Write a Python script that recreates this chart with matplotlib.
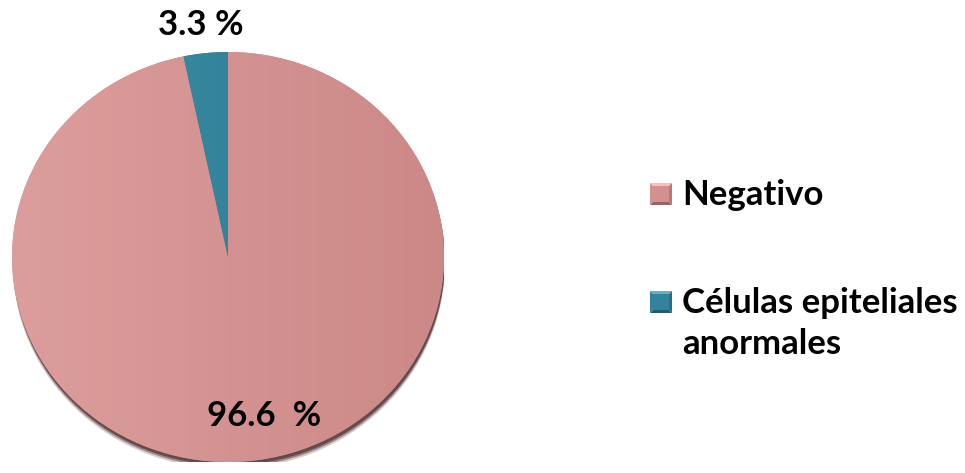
import numpy as np
import matplotlib
matplotlib.use("Agg")
from matplotlib import pyplot as plt
from matplotlib.patches import Ellipse, Polygon
from matplotlib.colors import LinearSegmentedColormap

categories = ["Negativo", "Células epiteliales\nanormales"]
values = [96.6, 3.3]
pct_labels = ["96.6  %", "3.3 %"]
colors = ["#D3908E", "#31849B"]

plt.rcParams['font.family'] = ['Lato', 'DejaVu Sans']

W, H = 965, 473
fig = plt.figure(figsize=(W / 100, H / 100), dpi=100)

# pie area in pixels: x 12..444, y 52..462 (from top)
ax = fig.add_axes([12 / W, (H - 462) / H, 432 / W, 410 / H])
ax.set_zorder(1)

# soft shadow under the pie
for dy, alpha in [(0.035, 0.25), (0.025, 0.5), (0.016, 0.8)]:
    ax.add_patch(Ellipse((0.004, -dy), 2.0, 2.0, facecolor="#5a3c3c", edgecolor="none",
                         alpha=alpha, zorder=0))

wedges, _ = ax.pie(values, colors=colors, startangle=90, counterclock=False, radius=1,
                   wedgeprops=dict(linewidth=0))
ax.set_aspect("auto")

# gradient fill clipped to each wedge
grad = np.linspace(0, 1, 256).reshape(1, -1)
cmaps = [LinearSegmentedColormap.from_list("p", ["#DC9E9C", "#CB8887"]),
         LinearSegmentedColormap.from_list("b", ["#3A8FA6", "#2C7A8F"])]
for w, cm in zip(wedges, cmaps):
    im = ax.imshow(grad, cmap=cm, extent=[-1, 1, -1, 1], aspect="auto", zorder=2)
    im.set_clip_path(w)
ax.set_xlim(-1, 1)
ax.set_ylim(-1, 1)
ax.axis("off")

# percentage labels
ax.text(0.167, -0.776, pct_labels[0], ha="center", va="center", fontsize=25,
        fontweight="bold", zorder=5)
ax.text(-0.125, 1.13, pct_labels[1], ha="center", va="center", fontsize=25,
        fontweight="bold", zorder=5, clip_on=False)

# legend with bevelled square markers
lax = fig.add_axes([0, 0, 1, 1])
lax.set_xlim(0, W)
lax.set_ylim(H, 0)
lax.axis("off")


def bevel_square(x0, yc, size, base):
    c = np.array(matplotlib.colors.to_rgb(base))
    light = np.clip(c + 0.18, 0, 1)
    dark = c * 0.7
    x1, y0, y1 = x0 + size, yc - size / 2, yc + size / 2
    xm, ym = x0 + size / 2, yc
    lax.add_patch(Polygon([(x0, y0), (x1, y0), (xm, ym)], facecolor=light, edgecolor="none"))
    lax.add_patch(Polygon([(x0, y1), (x1, y1), (xm, ym)], facecolor=dark, edgecolor="none"))
    lax.add_patch(Polygon([(x0, y0), (x0, y1), (xm, ym)], facecolor=c, edgecolor="none"))
    lax.add_patch(Polygon([(x1, y0), (x1, y1), (xm, ym)], facecolor=c * 0.85, edgecolor="none"))
    inset = 3
    lax.add_patch(Polygon([(x0 + inset, y0 + inset), (x1 - inset, y0 + inset),
                           (x1 - inset, y1 - inset), (x0 + inset, y1 - inset)],
                          facecolor=c, edgecolor="none"))


legend_rows = [194, 302]
for label, col, yc in zip(categories, colors, legend_rows):
    bevel_square(650, yc, 22, col)
    for i, line in enumerate(label.split("\n")):
        lax.text(682, yc + 11 + i * 41, line, ha="left", va="baseline", fontsize=25,
                 fontweight="bold")

fig.savefig("out.png", dpi=100)
